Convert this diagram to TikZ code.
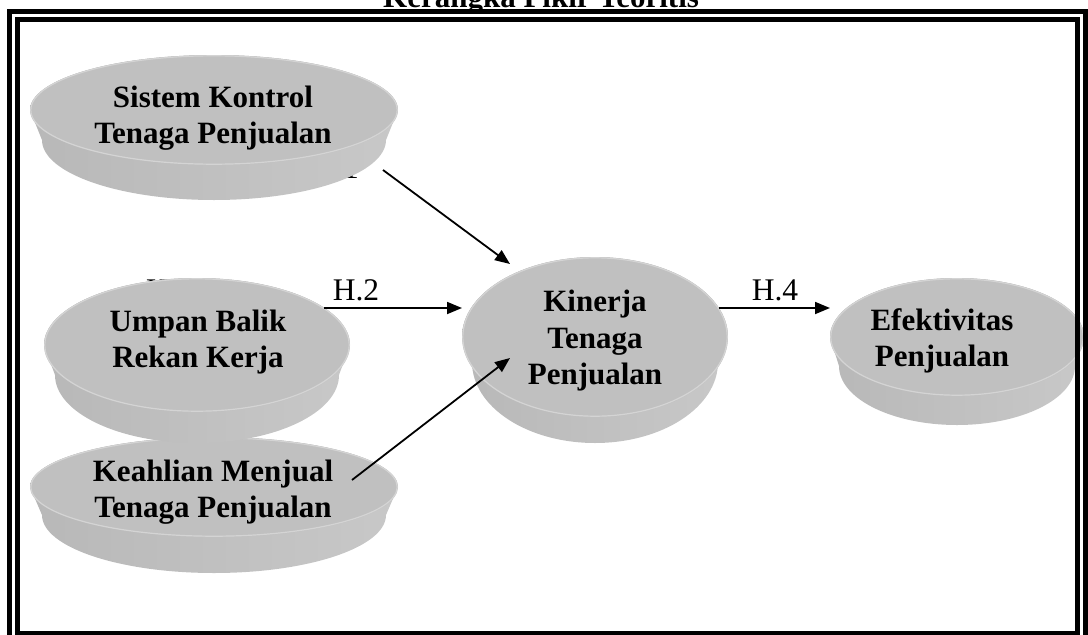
\documentclass[tikz,border=0pt]{standalone}
\usepackage{fontspec}
\setmainfont{Liberation Serif}
\usetikzlibrary{arrows.meta}

\definecolor{facegray}{HTML}{C0C0C0}
\definecolor{rimgray}{HTML}{D4D4D4}
\definecolor{bandL}{HTML}{B8B8B8}
\definecolor{bandM}{HTML}{A8A8A8}
\definecolor{bandR}{HTML}{C8C8C8}

% raised disk: #1,#2 centre of the top face, #3,#4 its radii,
% #5 drop of the lower rim, #6,#7 radii of the lower rim
\newcommand{\raiseddisk}[7]{%
  \shade[left color=bandL, middle color=bandM, right color=bandR]
    (#1-#3,#2) -- (#1-#6,#2+#5)
    arc[start angle=180, end angle=0, x radius=#6, y radius=#7]
    -- (#1+#3,#2)
    arc[start angle=0, end angle=-180, x radius=#3, y radius=#4] -- cycle;
  \fill[facegray] (#1,#2) ellipse [x radius=#3, y radius=#4];
  \draw[rimgray, line width=1.2pt] (#1,#2) ellipse [x radius=#3-0.8, y radius=#4-0.8];
}

\tikzset{
  disktext/.style={font=\fontsize{31}{36.5}\selectfont\bfseries, align=center, inner sep=0pt},
  hlabel/.style={font=\fontsize{31.5}{36}\selectfont, anchor=base, inner sep=0pt},
  link/.style={line width=1.8pt, -{Triangle[length=15pt,width=12pt]}},
  frameline/.style={line width=5pt},
}

\begin{document}
\begin{tikzpicture}[x=1pt, y=-1pt]
\useasboundingbox (0,0) rectangle (1088,635);
\clip (0,0) rectangle (1088,635);

% heading, cut by the top edge
\node[font=\fontsize{31}{36}\selectfont\bfseries, anchor=base, inner sep=0pt] (title) at (541,7) {Kerangka Pikir Teoritis};

% labels that lie behind the disks
\node[hlabel, anchor=base east] (h1) at (359,178.5) {H.1};
\node[hlabel, anchor=base west] (h3) at (146,300) {H.3};

% disks
\raiseddisk{214}{487}{184}{50}{28}{172}{58}
\raiseddisk{214}{110}{184}{55}{30}{172}{60}
\raiseddisk{197}{345}{153}{67}{30}{142}{68}
\raiseddisk{595}{337}{133}{80}{25}{123}{81}
\raiseddisk{957}{337}{127}{59}{29}{118}{59}

% texts on the disks
\node[disktext] (sk) at (213,118) {Sistem Kontrol\\Tenaga Penjualan};
\node[disktext] (ub) at (198,342) {Umpan Balik\\Rekan Kerja};
\node[disktext] (km) at (213,492) {Keahlian Menjual\\Tenaga Penjualan};
\node[disktext] (kt) at (595,341) {Kinerja\\Tenaga\\Penjualan};
\node[disktext] (ef) at (942,341) {Efektivitas\\Penjualan};

% connector ends
\coordinate (skout) at (383,170);
\coordinate (ktin1) at (510,264);
\coordinate (ubout) at (324,308);
\coordinate (ktin2) at (462,308);
\coordinate (kmout) at (352,480);
\coordinate (ktin3) at (510,358);
\coordinate (ktout) at (719,308);
\coordinate (efin)  at (830,308);

\draw[link] (skout) -- (ktin1);
\draw[link] (ubout) -- (ktin2);
\draw[link] (kmout) -- (ktin3);
\draw[link] (ktout) -- (efin);

\node[hlabel] (h2) at (356,300) {H.2};
\node[hlabel] (h4) at (775,300) {H.4};

% double frame
\draw[frameline] (9.5,11.5) rectangle (1085.5,660);
\draw[frameline] (17.5,19.5) rectangle (1077,633.5);
\end{tikzpicture}
\end{document}
